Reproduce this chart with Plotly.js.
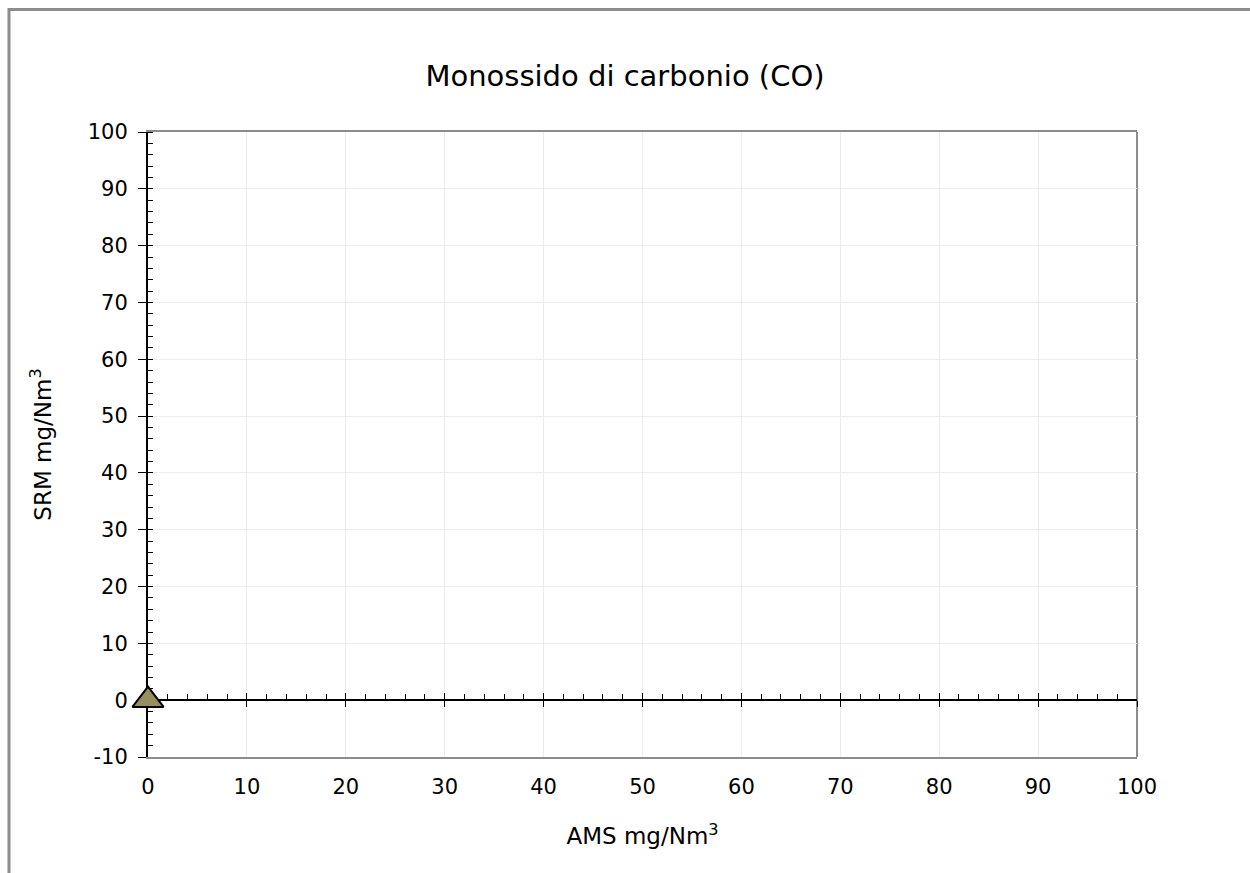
<!DOCTYPE html>
<html>
<head>
<meta charset="utf-8">
<script src="https://cdn.plot.ly/plotly-3.0.1.min.js"></script>
<style>html,body{margin:0;padding:0;background:#fff;}#chart{width:1250px;height:873px;}</style>
</head>
<body>
<div id="chart"></div>
<script>
const chartTitle = "Monossido di carbonio (CO)";
const xTitle = "AMS mg/Nm<sup>3</sup>";
const yTitle = "SRM mg/Nm<sup>3</sup>";
const amsValues = [0];
const srmValues = [0];
const xTickVals = [0, 10, 20, 30, 40, 50, 60, 70, 80, 90, 100];
const xTickLabels = ["0", "10", "20", "30", "40", "50", "60", "70", "80", "90", "100"];
const yTickVals = [-10, 0, 10, 20, 30, 40, 50, 60, 70, 80, 90, 100];
const yTickLabels = ["-10", "0", "10", "20", "30", "40", "50", "60", "70", "80", "90", "100"];
const xRange = [0, 100];
const yRange = [-10, 100];

const L = 148, R = 1137, T = 132, B = 757, W = 1250, H = 873;
const pw = R - L, ph = B - T;
const px = v => (v - L) / pw;
const py = v => (B - v) / ph;
const fontFam = "DejaVu Sans, Verdana, sans-serif";

const trace = {
  type: 'scatter', mode: 'markers', x: amsValues, y: srmValues,
  xaxis: 'x', yaxis: 'y', cliponaxis: false, showlegend: false,
  marker: {symbol: 'triangle-up', size: 27, color: '#978f5f', line: {color: '#000', width: 2}}
};

const layout = {
  width: W, height: H,
  margin: {l: L, r: W - R, t: T, b: H - B},
  paper_bgcolor: '#fff', plot_bgcolor: '#fff',
  font: {family: fontFam, color: '#000', size: 20},
  title: {text: chartTitle, x: 0.5, xref: 'container', xanchor: 'center', y: 1 - 76 / H, yanchor: 'middle',
          font: {family: fontFam, size: 29, color: '#000'}},
  xaxis: {
    range: xRange, tickmode: 'array', tickvals: xTickVals, ticktext: xTickLabels,
    showgrid: true, gridcolor: '#ececec', gridwidth: 1,
    zeroline: false, showline: true, linecolor: '#8c8c8c', linewidth: 2, mirror: true,
    ticks: 'outside', ticklen: 10, tickcolor: 'rgba(0,0,0,0)',
    tickfont: {size: 21, family: fontFam}, fixedrange: true,
    title: {text: xTitle, standoff: 30, font: {size: 23, family: fontFam}}
  },
  xaxis2: {
    overlaying: 'x', anchor: 'free', position: (0 - yRange[0]) / (yRange[1] - yRange[0]),
    range: xRange, dtick: 10, tick0: 0, showgrid: false, zeroline: false,
    showline: true, linecolor: '#000', linewidth: 2, layer: 'below traces',
    ticks: 'inside', ticklen: 6, tickcolor: '#000', tickwidth: 1, showticklabels: false,
    minor: {dtick: 2, ticks: 'inside', ticklen: 5, tickcolor: '#000', tickwidth: 1, showgrid: false}
  },
  xaxis3: {
    overlaying: 'x', anchor: 'free', position: (0 - yRange[0]) / (yRange[1] - yRange[0]),
    range: xRange, dtick: 10, tick0: 0, showgrid: false, zeroline: false, showline: false,
    layer: 'below traces', ticks: 'outside', ticklen: 6, tickcolor: '#000', tickwidth: 1, showticklabels: false
  },
  yaxis: {
    range: yRange, tickmode: 'array', tickvals: yTickVals, ticktext: yTickLabels,
    showgrid: true, gridcolor: '#ececec', gridwidth: 1,
    zeroline: false, showline: true, linecolor: '#000', linewidth: 2, layer: 'below traces',
    ticks: 'outside', ticklen: 8, tickcolor: '#000', tickwidth: 1, ticklabelstandoff: 6,
    minor: {dtick: 2, ticks: 'inside', ticklen: 5, tickcolor: '#000', tickwidth: 1, showgrid: false},
    tickfont: {size: 21, family: fontFam}, fixedrange: true,
    title: {text: yTitle, standoff: 30, font: {size: 23, family: fontFam}}
  },
  shapes: [
    {type: 'line', xref: 'paper', yref: 'paper', x0: 1, x1: 1, y0: 0, y1: 1, layer: 'below',
     line: {color: '#8c8c8c', width: 2}},
    {type: 'line', xref: 'paper', yref: 'paper', x0: px(9), x1: px(9), y0: py(8), y1: py(880), layer: 'above',
     line: {color: '#8c8c8c', width: 3}},
    {type: 'line', xref: 'paper', yref: 'paper', x0: px(8), x1: px(1260), y0: py(9.5), y1: py(9.5), layer: 'above',
     line: {color: '#8c8c8c', width: 3}}
  ]
};

const dummy2 = {type: 'scatter', x: [null], y: [null], xaxis: 'x2', yaxis: 'y', showlegend: false, hoverinfo: 'skip'};
const dummy3 = {type: 'scatter', x: [null], y: [null], xaxis: 'x3', yaxis: 'y', showlegend: false, hoverinfo: 'skip'};

Plotly.newPlot('chart', [dummy2, dummy3, trace], layout, {displayModeBar: false, staticPlot: true});
</script>
</body>
</html>
